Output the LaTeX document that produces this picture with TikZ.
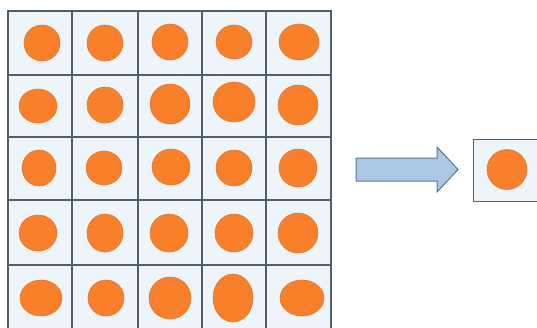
\documentclass[tikz,border=0pt]{standalone}
\definecolor{cellbg}{HTML}{EDF5FB}
\definecolor{gridline}{HTML}{4E5F6E}
\definecolor{dot}{HTML}{F9802A}
\definecolor{dotedge}{HTML}{E0782F}
\definecolor{arrowfill}{HTML}{AAC7E4}
\definecolor{arrowedge}{HTML}{5A7590}
\tikzset{
  cell/.style={fill=cellbg, draw=gridline, line width=1.4pt},
  dotc/.style={fill=dot, draw=dotedge, line width=0.6pt},
  bigarrow/.style={fill=arrowfill, draw=arrowedge, line width=1pt, line join=miter}
}
\begin{document}
\begin{tikzpicture}[x=1pt,y=-1pt]
\useasboundingbox (0,0) rectangle (537,327);
\begin{scope}
\clip (0,0) rectangle (537,327);
% grid cells
\foreach \x/\xx in {8/72,72/138,138/202,202/266,266/331}{
  \foreach \y/\yy in {11/75,75/137,137/200,200/265,265/330}{
    \draw[cell] (\x,\y) rectangle (\xx,\yy);
  }
}
% dots (x, y, rx, ry)
\foreach \cx/\cy/\rx/\ry in {
  42/43/18/18, 105/43/18/18, 170/42/18/18, 234/42/18/17, 299/42/20/18,
  38/106/19/17, 105/105/18/18, 170/104/20/20, 234/102/21/20, 298/105/20/20,
  39/168/17/18, 104/168/18/17, 171/167/19/18, 234/168/18/18, 298/168/19/19,
  38/233/19/18, 105/233/18/19, 169/233/19/19, 234/233/19/19, 298/233/20/20,
  41/298/21/18, 106/298/18/18, 170/298/21/21, 233/298/20/24, 302/298/22/18}{
  \fill[dotc] (\cx,\cy) ellipse [x radius=\rx, y radius=\ry];
}
% arrow
\coordinate (a1) at (356,169.5);
\coordinate (a2) at (458,169.5);
\draw[bigarrow] (a1) ++(0,-11.5) -- ++(81,0) -- ++(0,-11) -- (a2)
  -- ++(-21,22.5) -- ++(0,-11) -- ++(-81,0) -- cycle;
% single result cell
\node[cell, draw, minimum width=66pt, minimum height=62pt, anchor=north west, inner sep=0pt] (res) at (473,139) {};
\fill[dotc] (507,169.5) coordinate (rc) ellipse [x radius=20, y radius=20];
\end{scope}
\end{tikzpicture}
\end{document}
